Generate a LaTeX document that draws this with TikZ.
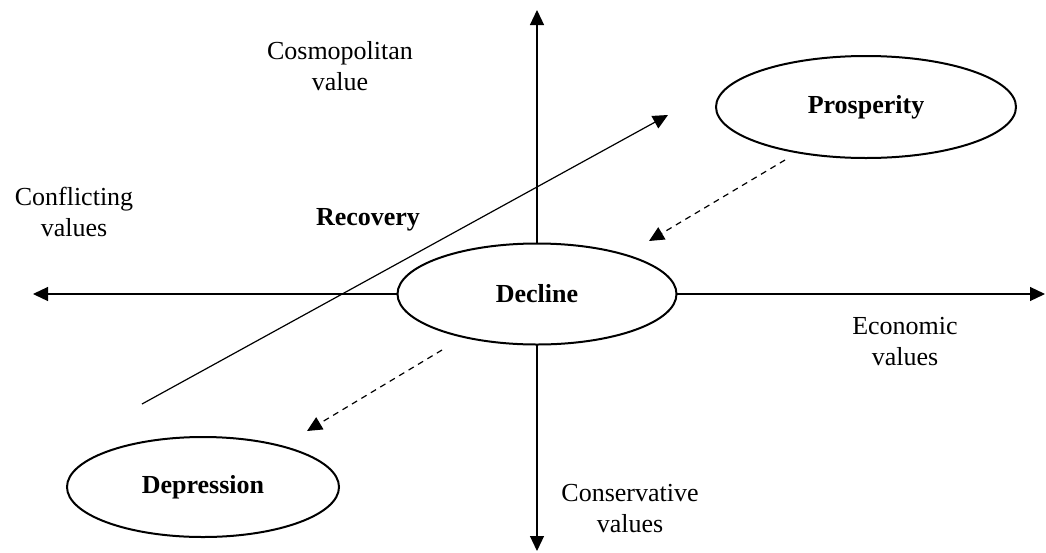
\documentclass[tikz,border=0pt]{standalone}
\usepackage{fontspec}
\setmainfont{Liberation Serif}
\usetikzlibrary{arrows.meta}
\begin{document}
\begin{tikzpicture}[x=1pt,y=-1pt,
  tip/.style={-{Triangle[length=15pt,width=14pt]}},
  axisline/.style={line width=1.2pt,tip},
  phase/.style={ellipse,draw,line width=2pt,fill=white,inner sep=0pt,font=\fontsize{26}{31}\selectfont\bfseries},
  lbl/.style={align=center,inner sep=0pt,font=\fontsize{26}{31}\selectfont},
  dashedarrow/.style={line width=1.2pt,dash pattern=on 6pt off 5pt,tip}]
\useasboundingbox (0,0) rectangle (1046,552);
\usetikzlibrary{shapes.geometric}
\coordinate (top) at (537,10);
\coordinate (bottom) at (537,551);
\coordinate (left) at (33,294);
\coordinate (right) at (1045,294);
\coordinate (rstart) at (142,404);
\coordinate (rend) at (668,115);
\coordinate (d1s) at (785,160);
\coordinate (d1e) at (649,241);
\coordinate (d2s) at (442,350);
\coordinate (d2e) at (307,431);
\draw[axisline] (537,294) -- (top);
\draw[axisline] (537,294) -- (bottom);
\draw[axisline] (537,294) -- (left);
\draw[axisline] (537,294) -- (right);
\draw[line width=1.2pt,tip] (rstart) -- (rend);
\node[phase,minimum width=279pt,minimum height=101pt] (decline) at (537,294) {Decline};
\node[phase,minimum width=300pt,minimum height=102pt] (prosperity) at (866,107) {Prosperity};
\node[phase,minimum width=272pt,minimum height=100pt] (depression) at (203,487) {Depression};
\draw[dashedarrow] (d1s) -- (d1e);
\draw[dashedarrow] (d2s) -- (d2e);
\node[lbl] (cosmo) at (340,66) {Cosmopolitan\\value};
\node[lbl] (confl) at (74,212) {Conflicting\\values};
\node[lbl,font=\fontsize{26}{31}\selectfont\bfseries] (recovery) at (368,220) {Recovery};
\node[lbl] (econ) at (905,342) {Economic\\values};
\node[lbl] (cons) at (630,509) {Conservative\\values};
\end{tikzpicture}
\end{document}
